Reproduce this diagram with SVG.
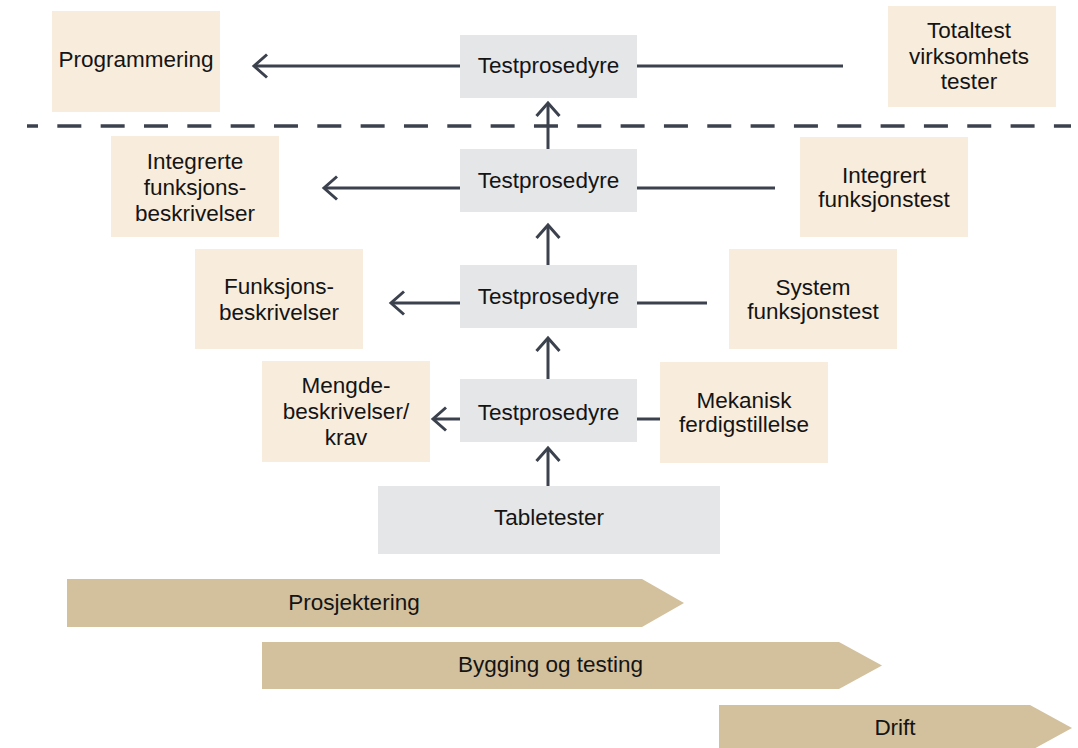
<svg xmlns="http://www.w3.org/2000/svg" width="1078" height="748" viewBox="0 0 1078 748">
  <style>
    text { font-family: "Liberation Sans", Arial, sans-serif; font-size: 22.5px; fill: #141414; text-anchor: middle; }
    .doc { fill: #f8ecdc; }
    .proc { fill: #e5e6e8; }
    .phase { fill: #d3c09d; }
    .link { stroke: #3b414d; stroke-width: 3; fill: none; }
    .arrow { marker-end: url(#chev); }
    .divider { stroke: #3b414d; stroke-width: 3.5; stroke-dasharray: 24 19.33; stroke-dashoffset: 13; }
  </style>
  <defs>
    <marker id="chev" markerUnits="userSpaceOnUse" markerWidth="40" markerHeight="40" viewBox="-20 -20 40 40" refX="0" refY="0" orient="auto">
      <path d="M-13,-11.5 L0,0 L-13,11.5" fill="none" stroke="#3b414d" stroke-width="3" stroke-linejoin="miter"/>
    </marker>
  </defs>

  <rect width="1078" height="748" fill="#ffffff"/>

  <!-- level divider -->
  <line class="divider" x1="27" y1="126" x2="1071" y2="126"/>

  <!-- connectors -->
  <g id="connectors">
    <line class="link arrow" x1="460" y1="66" x2="254" y2="66"/>
    <line class="link" x1="637" y1="66" x2="843" y2="66"/>
    <line class="link arrow" x1="460" y1="188" x2="324" y2="188"/>
    <line class="link" x1="637" y1="188" x2="775" y2="188"/>
    <line class="link arrow" x1="460" y1="303" x2="391" y2="303"/>
    <line class="link" x1="637" y1="303" x2="707" y2="303"/>
    <line class="link arrow" x1="460" y1="419" x2="433" y2="419"/>
    <line class="link" x1="637" y1="419" x2="660" y2="419"/>
    <line class="link arrow" x1="548" y1="149" x2="548" y2="103"/>
    <line class="link arrow" x1="548" y1="265" x2="548" y2="225"/>
    <line class="link arrow" x1="548" y1="379" x2="548" y2="338"/>
    <line class="link arrow" x1="548" y1="486" x2="548" y2="448"/>
  </g>

  <!-- test procedures -->
  <g id="testprosedyre-1">
    <rect class="proc" x="460" y="35" width="177" height="63"/>
    <text x="548.5" y="73">Testprosedyre</text>
  </g>
  <g id="testprosedyre-2">
    <rect class="proc" x="460" y="149" width="177" height="63"/>
    <text x="548.5" y="188">Testprosedyre</text>
  </g>
  <g id="testprosedyre-3">
    <rect class="proc" x="460" y="265" width="177" height="63"/>
    <text x="548.5" y="304">Testprosedyre</text>
  </g>
  <g id="testprosedyre-4">
    <rect class="proc" x="460" y="379" width="177" height="63"/>
    <text x="548.5" y="420">Testprosedyre</text>
  </g>
  <g id="tabletester">
    <rect class="proc" x="378" y="486" width="342" height="68"/>
    <text x="549" y="525">Tabletester</text>
  </g>

  <!-- documents (left) -->
  <g id="programmering">
    <rect class="doc" x="52" y="11" width="168" height="101"/>
    <text x="136" y="67">Programmering</text>
  </g>
  <g id="integrerte-funksjonsbeskrivelser">
    <rect class="doc" x="111" y="136" width="168" height="101"/>
    <text x="195" y="169">Integrerte</text>
    <text x="195" y="195">funksjons-</text>
    <text x="195" y="221">beskrivelser</text>
  </g>
  <g id="funksjonsbeskrivelser">
    <rect class="doc" x="195" y="249" width="168" height="100"/>
    <text x="279" y="294">Funksjons-</text>
    <text x="279" y="320">beskrivelser</text>
  </g>
  <g id="mengdebeskrivelser">
    <rect class="doc" x="262" y="361" width="168" height="101"/>
    <text x="346" y="393">Mengde-</text>
    <text x="346" y="419">beskrivelser/</text>
    <text x="346" y="445">krav</text>
  </g>

  <!-- tests (right) -->
  <g id="totaltest">
    <rect class="doc" x="888" y="6" width="168" height="101"/>
    <text x="969" y="38">Totaltest</text>
    <text x="969" y="64">virksomhets</text>
    <text x="969" y="89">tester</text>
  </g>
  <g id="integrert-funksjonstest">
    <rect class="doc" x="800" y="137" width="168" height="100"/>
    <text x="884" y="183">Integrert</text>
    <text x="884" y="207">funksjonstest</text>
  </g>
  <g id="system-funksjonstest">
    <rect class="doc" x="729" y="249" width="168" height="100"/>
    <text x="813" y="295">System</text>
    <text x="813" y="319">funksjonstest</text>
  </g>
  <g id="mekanisk-ferdigstillelse">
    <rect class="doc" x="660" y="362" width="168" height="101"/>
    <text x="744" y="408">Mekanisk</text>
    <text x="744" y="432">ferdigstillelse</text>
  </g>

  <!-- project phases -->
  <g id="prosjektering">
    <polygon class="phase" points="67,579 642,579 684,603 642,627 67,627"/>
    <text x="354" y="610">Prosjektering</text>
  </g>
  <g id="bygging">
    <polygon class="phase" points="262,642 839,642 882,665.5 839,689 262,689"/>
    <text x="550.5" y="672">Bygging og testing</text>
  </g>
  <g id="drift">
    <polygon class="phase" points="719,705 1030,705 1072,728 1030,751 719,751"/>
    <text x="895" y="735">Drift</text>
  </g>
</svg>
